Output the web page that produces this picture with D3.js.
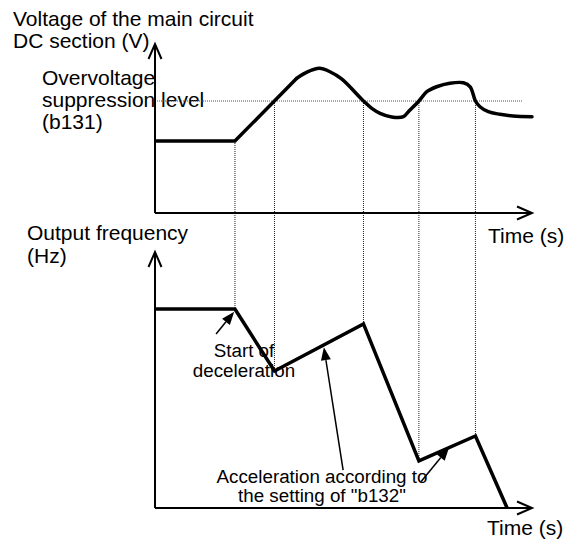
<!DOCTYPE html>
<html>
<head>
<meta charset="utf-8">
<script src="https://cdn.jsdelivr.net/npm/d3@7"></script>
<style>
  html, body { margin: 0; padding: 0; background: #fff; }
  svg { display: block; font-family: Arial, "Liberation Sans", sans-serif; }
</style>
</head>
<body>
<svg id="chart" width="571" height="539"></svg>
<script>
// DC bus voltage trace: time vs. voltage (arbitrary units)
const voltageTime  = [0, 21.2, 37.6, 40.2, 43.6, 46.4, 49.5, 55.3, 57.5, 59.7, 62.8, 65.9, 67.2, 70.0, 72.1, 74.7, 78.2, 81.8, 83.6, 85.0, 86.2, 88.4, 91.5, 95.0, 100];
const voltageValue = [45, 45, 84.2, 87.9, 90.4, 88.3, 83.8, 70, 65.4, 62.3, 60, 60.2, 63.3, 70, 75.8, 78.9, 81.1, 81.4, 78.9, 70, 66.4, 63.3, 61.7, 60.6, 60.2];
// points up to this index are joined by straight segments (hold + linear rise)
const straightUntil = 2;

// Overvoltage suppression level (b131)
const suppressionLevel = 70;
const levelEnd = 97.6;

// Output frequency trace: time vs. frequency (arbitrary units)
const freqTime  = [0, 21.2, 31.7, 55.3, 70.0, 85.0, 93.4];
const freqValue = [82.9, 82.9, 57.1, 76.7, 19.6, 30, 0];

// Moments where the control switches between decelerating and accelerating
const eventTime = [21.2, 31.7, 55.3, 70.0, 85.0];

// Annotation arrows: [tailTime, tailFreq, tipTime, tipFreq]
const startArrow = [16.2, 72.5, 21.0, 81.8];
const accelArrows = [
  [49.9, 15.8, 44.8, 67.0],
  [70.6, 11.0, 78.0, 25.2]
];

// Text
const voltageTitle = ["Voltage of the main circuit", "DC section (V)"];
const levelLabel = ["Overvoltage", "suppression level", "(b131)"];
const freqTitle = ["Output frequency", "(Hz)"];
const timeLabel = "Time (s)";
const startLabel = ["Start of", "deceleration"];
const accelLabel = ["Acceleration according to", "the setting of \"b132\""];

const svg = d3.select("#chart");

const x = d3.scaleLinear().domain([0, 100]).range([155, 532]);
const yV = d3.scaleLinear().domain([0, 100]).range([213, 53]);
const yF = d3.scaleLinear().domain([0, 100]).range([508, 268]);

const voltage = voltageTime.map((t, i) => ({ t, v: voltageValue[i] }));
const freq = freqTime.map((t, i) => ({ t, f: freqValue[i] }));

const labelSize = 21;
const noteSize = 18.8;

// ---- text (drawn first so lines sit on top) ----
function lines(arr, x0, y0, dy, size, anchor) {
  arr.forEach((s, i) => {
    svg.append("text")
      .attr("x", x0).attr("y", y0 + i * dy)
      .attr("font-size", size)
      .attr("text-anchor", anchor || "start")
      .attr("fill", "#000")
      .text(s);
  });
}
lines(voltageTitle, 13, 26, 22, labelSize);
lines(levelLabel, 42, 85, 22, labelSize);
lines(freqTitle, 27, 240, 23, labelSize);
lines([timeLabel], 488, 243, 0, labelSize);
lines([timeLabel], 487, 535, 0, labelSize);
lines(startLabel, 244, 357, 20, noteSize, "middle");
lines(accelLabel, 322, 483, 19, noteSize, "middle");

// ---- dotted guides ----
const g = svg.append("g");
g.append("line")
  .attr("x1", x(0)).attr("x2", x(levelEnd))
  .attr("y1", yV(suppressionLevel)).attr("y2", yV(suppressionLevel))
  .attr("stroke", "#555").attr("stroke-width", 1)
  .attr("stroke-dasharray", "1,1");

const freqAt = d3.scaleLinear().domain(freqTime).range(freqValue);
g.selectAll("line.event")
  .data(eventTime)
  .join("line")
  .attr("class", "event")
  .attr("x1", d => x(d)).attr("x2", d => x(d))
  .attr("y1", (d, i) => yV(i === 0 ? voltageValue[1] : suppressionLevel))
  .attr("y2", d => yF(freqAt(d)))
  .attr("stroke", "#222").attr("stroke-width", 1)
  .attr("stroke-dasharray", "1,1");

// ---- axes with open arrowheads ----
function axisArrow(x1, y1, x2, y2) {
  svg.append("line")
    .attr("x1", x1).attr("y1", y1).attr("x2", x2).attr("y2", y2)
    .attr("stroke", "#000").attr("stroke-width", 2);
  const a = Math.atan2(y2 - y1, x2 - x1), L = 15, W = 6.5;
  const p = [
    [x2 - L * Math.cos(a) + W * Math.sin(a), y2 - L * Math.sin(a) - W * Math.cos(a)],
    [x2, y2],
    [x2 - L * Math.cos(a) - W * Math.sin(a), y2 - L * Math.sin(a) + W * Math.cos(a)]
  ];
  svg.append("path")
    .attr("d", d3.line()(p))
    .attr("fill", "none").attr("stroke", "#000").attr("stroke-width", 2);
}
axisArrow(x(0), yV(0), x(0), 44);
axisArrow(x(0), yV(0), x(100), yV(0));
axisArrow(x(0), yF(0), x(0), 252);
axisArrow(x(0), yF(0), x(100), yF(0));

// ---- voltage trace: straight hold and rise, then a smooth swing ----
const straight = d3.line().x(d => x(d.t)).y(d => yV(d.v));
const smooth = d3.line().x(d => x(d.t)).y(d => yV(d.v)).curve(d3.curveCatmullRom.alpha(0.5));
svg.append("path")
  .attr("d", straight(voltage.slice(0, straightUntil + 1)))
  .attr("fill", "none").attr("stroke", "#000").attr("stroke-width", 3.5)
  .attr("stroke-linejoin", "miter");
svg.append("path")
  .attr("d", smooth(voltage.slice(straightUntil)))
  .attr("fill", "none").attr("stroke", "#000").attr("stroke-width", 3.5)
  .attr("stroke-linejoin", "round").attr("stroke-linecap", "round");

// ---- frequency trace ----
svg.append("path")
  .attr("d", d3.line().x(d => x(d.t)).y(d => yF(d.f))(freq))
  .attr("fill", "none").attr("stroke", "#000").attr("stroke-width", 3.5)
  .attr("stroke-linejoin", "miter");

// ---- annotation arrows with filled heads ----
function noteArrow([t0, f0, t1, f1]) {
  const x1 = x(t0), y1 = yF(f0), x2 = x(t1), y2 = yF(f1);
  const a = Math.atan2(y2 - y1, x2 - x1), L = 13, W = 5;
  const bx = x2 - L * Math.cos(a), by = y2 - L * Math.sin(a);
  svg.append("line")
    .attr("x1", x1).attr("y1", y1).attr("x2", bx).attr("y2", by)
    .attr("stroke", "#000").attr("stroke-width", 1.5);
  svg.append("path")
    .attr("d", d3.line()([
      [x2, y2],
      [bx + W * Math.sin(a), by - W * Math.cos(a)],
      [bx - W * Math.sin(a), by + W * Math.cos(a)]
    ]) + "Z")
    .attr("fill", "#000");
}
noteArrow(startArrow);
accelArrows.forEach(noteArrow);
</script>
</body>
</html>
